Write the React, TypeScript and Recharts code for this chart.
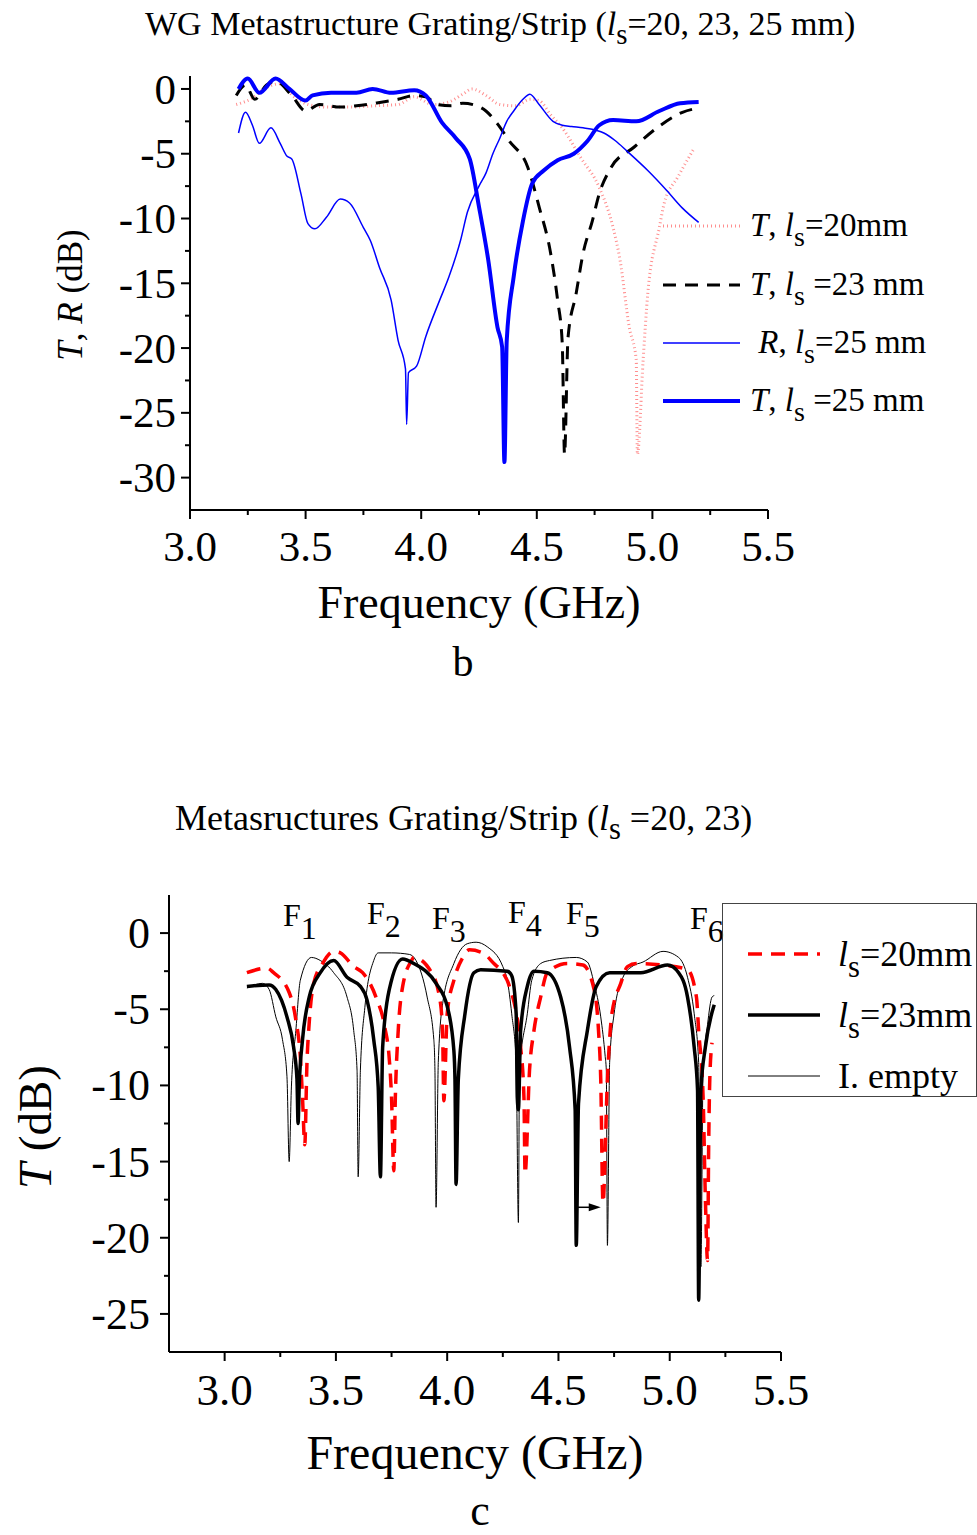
import React from 'react'
import { LineChart, Line, XAxis, YAxis, ReferenceLine } from 'recharts'

const SERIF = '"Liberation Serif", "Times New Roman", Times, serif'

// ---- panel b: WG metastructure grating/strip, [GHz, dB]
const bT20: [number, number][] = [
  [3.2, -1.2], [3.27, -0.7], [3.32, 0], [3.39, 0.4], [3.45, -0.6], [3.51, -1.2], [3.6, -1.4],
  [3.7, -1.4], [3.8, -1.3], [3.9, -1.2], [3.97, -0.6], [4.05, -1.2], [4.12, -1.0], [4.18, -0.4],
  [4.22, 0], [4.28, -0.5], [4.34, -1.2], [4.41, -1.3], [4.47, -0.8], [4.51, -0.9], [4.56, -2.0],
  [4.61, -3.0], [4.69, -5.3], [4.77, -7.6], [4.83, -10.7], [4.86, -13.2], [4.9, -18.4],
  [4.93, -20.9], [4.935, -28.2], [4.96, -20.9], [4.98, -15.8], [5.03, -10.7], [5.05, -8.9],
  [5.11, -6.8], [5.18, -4.6],
]
const bT23: [number, number][] = [
  [3.2, -0.5], [3.24, 0.3], [3.28, -0.8], [3.33, 0.3], [3.37, 0.6], [3.44, -0.5], [3.5, -1.7],
  [3.56, -1.2], [3.65, -1.4], [3.72, -1.3], [3.8, -1.1], [3.9, -0.8], [3.97, -0.5], [4.02, -0.6],
  [4.07, -1.2], [4.13, -1.3], [4.18, -1.1], [4.24, -1.3], [4.28, -1.7], [4.33, -2.7], [4.38, -4.0],
  [4.46, -6.0], [4.51, -9.1], [4.56, -12.7], [4.59, -16.3], [4.61, -19.6], [4.62, -28.2],
  [4.635, -19.2], [4.67, -15.8], [4.7, -12.7], [4.74, -10.2], [4.77, -8.1], [4.82, -6.1],
  [4.92, -4.5], [5.02, -3.0], [5.13, -1.8], [5.19, -1.5],
]
const bR25: [number, number][] = [
  [3.21, -3.4], [3.24, -1.8], [3.27, -2.8], [3.3, -4.2], [3.35, -3.0], [3.39, -4.2], [3.42, -5.2],
  [3.44, -5.4], [3.48, -8.1], [3.51, -10.4], [3.54, -10.8], [3.59, -9.9], [3.65, -8.5], [3.69, -8.8],
  [3.75, -10.7], [3.78, -11.7], [3.82, -13.8], [3.87, -16.3], [3.9, -19.4], [3.932, -21.6],
  [3.937, -25.9], [3.945, -21.9], [3.98, -21.4], [4.02, -19.1], [4.08, -16.3], [4.12, -14.5],
  [4.17, -11.7], [4.2, -9.5], [4.25, -7.5], [4.28, -6.5], [4.31, -5.0], [4.34, -3.8], [4.37, -2.5],
  [4.4, -1.7], [4.44, -0.8], [4.47, -0.4], [4.51, -1.2], [4.57, -2.5], [4.61, -2.8], [4.65, -2.9],
  [4.7, -3.0], [4.76, -3.2], [4.79, -3.4], [4.84, -4.0], [4.89, -4.8], [4.98, -6.3], [5.06, -7.8],
  [5.13, -9.2], [5.2, -10.3],
]
const bT25: [number, number][] = [
  [3.21, 0], [3.25, 0.8], [3.3, -0.3], [3.37, 0.8], [3.43, 0], [3.5, -0.9], [3.53, -0.5],
  [3.61, -0.3], [3.72, -0.3], [3.79, 0], [3.87, -0.3], [3.97, -0.1], [4.02, -0.5], [4.09, -2.6],
  [4.15, -3.8], [4.21, -5.4], [4.25, -9.1], [4.29, -13.2], [4.33, -18.4], [4.35, -19.9],
  [4.36, -28.8], [4.37, -19.4], [4.4, -14.5], [4.44, -10.2], [4.48, -7.3], [4.53, -6.3],
  [4.59, -5.5], [4.66, -5.0], [4.72, -4.0], [4.77, -2.8], [4.83, -2.4], [4.93, -2.5], [5.03, -1.7],
  [5.12, -1.1], [5.2, -1.0],
]
const bXTicks = [3, 3.25, 3.5, 3.75, 4, 4.25, 4.5, 4.75, 5, 5.25, 5.5]
const bYTicks = [0, -2.5, -5, -7.5, -10, -12.5, -15, -17.5, -20, -22.5, -25, -27.5, -30]

// ---- panel c: metastructures grating/strip, T [GHz, dB]
const cL20: [number, number][] = [
  [3.1, -2.6], [3.19, -2.3], [3.22, -2.6], [3.29, -3.9], [3.32, -5.7], [3.34, -8.1], [3.35, -10.8],
  [3.36, -13.9], [3.37, -8.5], [3.38, -5.9], [3.4, -3.3], [3.44, -2.0], [3.49, -1.2], [3.52, -1.3],
  [3.58, -2.2], [3.62, -2.6], [3.68, -4.2], [3.72, -6.2], [3.74, -8.3], [3.75, -10.8], [3.76, -15.6],
  [3.767, -10.8], [3.78, -6.4], [3.8, -3.5], [3.84, -1.8], [3.85, -1.6], [3.93, -2.6], [3.97, -4.6],
  [3.98, -7.0], [3.985, -11.0], [4.0, -5.3], [4.03, -3.1], [4.07, -1.6], [4.1, -1.1], [4.16, -1.3],
  [4.21, -2.0], [4.25, -2.6], [4.28, -3.5], [4.33, -7.5], [4.345, -10.8], [4.35, -15.8], [4.37, -9.0],
  [4.39, -6.4], [4.42, -4.2], [4.45, -2.6], [4.54, -2.0], [4.61, -2.1], [4.66, -3.7], [4.68, -6.4],
  [4.69, -9.6], [4.7, -17.7], [4.72, -9.6], [4.74, -5.3], [4.78, -3.3], [4.81, -2.2], [4.85, -2.0],
  [4.97, -2.1], [5.08, -2.4], [5.12, -4.2], [5.13, -6.4], [5.15, -10.8], [5.16, -17.3],
  [5.17, -21.5], [5.175, -14.0], [5.18, -9.6], [5.19, -7.2],
]
const cL23: [number, number][] = [
  [3.1, -3.5], [3.2, -3.4], [3.23, -3.7], [3.28, -5.5], [3.31, -7.5], [3.325, -9.6], [3.33, -12.5],
  [3.335, -10.1], [3.35, -7.0], [3.38, -4.2], [3.43, -2.6], [3.49, -1.8], [3.55, -2.9], [3.61, -3.5],
  [3.64, -4.4], [3.67, -7.0], [3.69, -10.1], [3.7, -16.0], [3.71, -7.5], [3.74, -3.7], [3.8, -1.7],
  [3.85, -2.0], [3.95, -3.3], [4.0, -4.8], [4.03, -7.7], [4.035, -9.6], [4.04, -16.5], [4.05, -9.6],
  [4.08, -5.3], [4.12, -2.6], [4.15, -2.4], [4.27, -2.5], [4.29, -2.8], [4.31, -5.3], [4.315, -10.8],
  [4.32, -11.6], [4.33, -6.4], [4.36, -3.5], [4.39, -2.5], [4.45, -2.6], [4.51, -4.2], [4.55, -7.5],
  [4.575, -11.6], [4.58, -20.5], [4.59, -11.2], [4.63, -6.4], [4.67, -3.5], [4.73, -2.6],
  [4.87, -2.6], [4.99, -2.1], [5.04, -2.6], [5.08, -4.2], [5.11, -7.5], [5.125, -10.3],
  [5.13, -24.1], [5.14, -10.3], [5.16, -7.5], [5.2, -4.7],
]
const cEmpty: [number, number][] = [
  [3.1, -3.6], [3.17, -3.3], [3.2, -3.7], [3.23, -5.5], [3.26, -7.0], [3.28, -9.4], [3.29, -15.0],
  [3.3, -10.1], [3.32, -6.4], [3.34, -3.1], [3.39, -1.6], [3.43, -1.8], [3.49, -2.6], [3.55, -4.2],
  [3.58, -6.4], [3.595, -9.0], [3.6, -16.0], [3.61, -9.0], [3.63, -4.9], [3.67, -1.8], [3.69, -1.3],
  [3.75, -1.3], [3.83, -1.4], [3.86, -1.8], [3.91, -4.2], [3.94, -7.0], [3.945, -9.0], [3.95, -18.0],
  [3.96, -8.5], [3.98, -4.6], [4.03, -2.0], [4.09, -0.7], [4.13, -0.6], [4.18, -0.9], [4.25, -2.2],
  [4.27, -3.1], [4.29, -5.3], [4.31, -8.5], [4.32, -19.0], [4.325, -9.0], [4.36, -5.3], [4.38, -3.1],
  [4.42, -2.0], [4.46, -1.8], [4.58, -1.6], [4.63, -1.9], [4.66, -3.3], [4.69, -5.5], [4.71, -8.1],
  [4.715, -9.0], [4.72, -20.5], [4.73, -8.5], [4.75, -5.3], [4.79, -2.9], [4.83, -2.2], [4.88, -1.9],
  [4.97, -1.2], [5.04, -1.6], [5.08, -2.9], [5.11, -5.3], [5.13, -8.5], [5.14, -21.9], [5.15, -9.0],
  [5.17, -6.0], [5.19, -4.2], [5.2, -4.1],
]
const cXTicks = [3, 3.25, 3.5, 3.75, 4, 4.25, 4.5, 4.75, 5, 5.25, 5.5]
const cYTicks = [0, -2.5, -5, -7.5, -10, -12.5, -15, -17.5, -20, -22.5, -25]
const fNames = ['1', '2', '3', '4', '5', '6']
// arrow F5 shift: from l_s=23 dip to l_s=20 dip
const shiftArrow = { from: 4.585, to: 4.69, at: -18 }

const pts = (a: [number, number][]) => a.map(([f, v]) => ({ f, v }))
const isStep = (v: number, step: number) => Math.abs(v / step - Math.round(v / step)) < 1e-6

function XTick(props: any) {
  const { x, y, payload, off, fs } = props
  const major = isStep(payload.value, 0.5)
  return (
    <g>
      <line x1={x} x2={x} y1={y} y2={y + (major ? 9 : 5)} stroke="#000" strokeWidth={2} />
      {major && (
        <text x={x} y={y + off} textAnchor="middle" fontSize={fs} fontFamily={SERIF} fill="#000">
          {payload.value.toFixed(1)}
        </text>
      )}
    </g>
  )
}

function YTick(props: any) {
  const { x, y, payload, off, fs } = props
  const major = isStep(payload.value, 5)
  return (
    <g>
      <line x1={x} x2={x - (major ? 9 : 5)} y1={y} y2={y} stroke="#000" strokeWidth={2} />
      {major && (
        <text x={x - off} y={y + fs * 0.34} textAnchor="end" fontSize={fs} fontFamily={SERIF} fill="#000">
          {String(payload.value)}
        </text>
      )}
    </g>
  )
}

const Sub = ({ children, drop = 0.35, size = 0.85 }: any) => (
  <span style={{ fontSize: `${size}em`, position: 'relative', top: `${drop}em` }}>{children}</span>
)

const Txt = ({ x, y, fs, children, style }: any) => (
  <div
    style={{
      position: 'absolute', left: x, top: y, fontSize: fs, lineHeight: 1, whiteSpace: 'nowrap',
      fontFamily: SERIF, color: '#000', ...style,
    }}
  >
    {children}
  </div>
)

const Sample = ({ w, stroke, sw, dash }: any) => (
  <svg width={w} height={12} style={{ display: 'block' }}>
    <line x1={0} x2={w} y1={6} y2={6} stroke={stroke} strokeWidth={sw} strokeDasharray={dash} />
  </svg>
)

const axisLine = { stroke: '#000', strokeWidth: 2 }

export default function App() {
  return (
    <div
      style={{
        position: 'absolute', left: 0, top: 0, width: 977, height: 1535, background: '#fff',
        overflow: 'hidden', fontFamily: SERIF,
      }}
    >
      {/* panel b */}
      <div style={{ position: 'absolute', left: 0, top: 0 }}>
        <LineChart width={977} height={700} margin={{ top: 76, left: 150, right: 209, bottom: 150 }}>
          <XAxis
            type="number" dataKey="f" domain={[3, 5.5]} ticks={bXTicks} interval={0} height={40}
            tickSize={0} tickMargin={0} tickLine={false} axisLine={axisLine} allowDataOverflow
            tick={(p: any) => <XTick {...p} off={51} fs={43} />}
          />
          <YAxis
            type="number" domain={[-32.5, 1]} ticks={bYTicks} interval={0} width={40}
            tickSize={0} tickMargin={0} tickLine={false} axisLine={axisLine} allowDataOverflow
            tick={(p: any) => <YTick {...p} off={14} fs={43} />}
          />
          <Line data={pts(bT20)} dataKey="v" type="monotone" stroke="#ff8f8f" strokeWidth={3}
            strokeDasharray="1 3" dot={false} isAnimationActive={false} />
          <Line data={pts(bT23)} dataKey="v" type="monotone" stroke="#000" strokeWidth={3}
            strokeDasharray="13 9" dot={false} isAnimationActive={false} />
          <Line data={pts(bR25)} dataKey="v" type="monotone" stroke="#0000ff" strokeWidth={1.5}
            dot={false} isAnimationActive={false} />
          <Line data={pts(bT25)} dataKey="v" type="monotone" stroke="#0000ff" strokeWidth={4}
            dot={false} isAnimationActive={false} />
        </LineChart>
      </div>

      <Txt x={145} y={7} fs={34}>
        WG Metastructure Grating/Strip (<i>l</i><Sub drop={0.3}>s</Sub>=20, 23, 25 mm)
      </Txt>
      <Txt x={70} y={295} fs={35} style={{ transform: 'translate(-50%, -50%) rotate(-90deg)' }}>
        <i>T</i>, <i>R</i> (dB)
      </Txt>
      <Txt x={479} y={603} fs={46} style={{ transform: 'translate(-50%, -50%)' }}>
        Frequency (GHz)
      </Txt>
      <Txt x={463} y={662} fs={42} style={{ transform: 'translate(-50%, -50%)' }}>b</Txt>

      {/* legend b */}
      {[
        { y: 226, el: <Sample w={77} stroke="#ff8f8f" sw={3} dash="1 3" />, t: <><i>T</i>, <i>l</i><Sub>s</Sub>=20mm</> },
        { y: 285, el: <Sample w={77} stroke="#000" sw={3} dash="13 9" />, t: <><i>T</i>, <i>l</i><Sub>s</Sub> =23 mm</> },
        { y: 343, el: <Sample w={77} stroke="#0000ff" sw={1.5} />, t: <>&nbsp;<i>R</i>, <i>l</i><Sub>s</Sub>=25 mm</> },
        { y: 401, el: <Sample w={77} stroke="#0000ff" sw={4} />, t: <><i>T</i>, <i>l</i><Sub>s</Sub> =25 mm</> },
      ].map((r, i) => (
        <React.Fragment key={i}>
          <div style={{ position: 'absolute', left: 663, top: r.y - 6 }}>{r.el}</div>
          <Txt x={750} y={r.y - 17} fs={33}>{r.t}</Txt>
        </React.Fragment>
      ))}

      {/* panel c */}
      <div style={{ position: 'absolute', left: 0, top: 760 }}>
        <LineChart width={977} height={775} margin={{ top: 135, left: 129, right: 196, bottom: 143 }}>
          <XAxis
            type="number" dataKey="f" domain={[2.75, 5.5]} ticks={cXTicks} interval={0} height={40}
            tickSize={0} tickMargin={0} tickLine={false} axisLine={axisLine} allowDataOverflow
            tick={(p: any) => <XTick {...p} off={53} fs={45} />}
          />
          <YAxis
            type="number" domain={[-27.5, 2.5]} ticks={cYTicks} interval={0} width={40}
            tickSize={0} tickMargin={0} tickLine={false} axisLine={axisLine} allowDataOverflow
            tick={(p: any) => <YTick {...p} off={19} fs={44} />}
          />
          <Line data={pts(cEmpty)} dataKey="v" type="monotone" stroke="#000" strokeWidth={1}
            dot={false} isAnimationActive={false} />
          <Line data={pts(cL20)} dataKey="v" type="monotone" stroke="#ff0000" strokeWidth={3.5}
            strokeDasharray="14 9" dot={false} isAnimationActive={false} />
          <Line data={pts(cL23)} dataKey="v" type="monotone" stroke="#000" strokeWidth={3.5}
            dot={false} isAnimationActive={false} />
          <ReferenceLine
            segment={[{ x: shiftArrow.from, y: shiftArrow.at }, { x: shiftArrow.to, y: shiftArrow.at }]}
            ifOverflow="visible"
            shape={(p: any) => (
              <g>
                <line x1={p.x1} y1={p.y1} x2={p.x2 - 8} y2={p.y2} stroke="#000" strokeWidth={1.5} />
                <polygon points={`${p.x2},${p.y2} ${p.x2 - 12},${p.y2 - 4} ${p.x2 - 12},${p.y2 + 4}`} fill="#000" />
              </g>
            )}
          />
        </LineChart>
      </div>

      <Txt x={175} y={800} fs={36}>
        Metasructures Grating/Strip (<i>l</i><Sub drop={0.3}>s</Sub> =20, 23)
      </Txt>
      <Txt x={35} y={1127} fs={47} style={{ transform: 'translate(-50%, -50%) rotate(-90deg)' }}>
        <i>T</i> (dB)
      </Txt>
      <Txt x={475} y={1453} fs={48} style={{ transform: 'translate(-50%, -50%)' }}>
        Frequency (GHz)
      </Txt>
      <Txt x={480} y={1511} fs={44} style={{ transform: 'translate(-50%, -50%)' }}>c</Txt>

      {[[283, 905], [367, 903], [432, 908], [508, 902], [566, 903], [690, 908]].map(([x, y], i) => (
        <Txt key={i} x={x} y={y - 6} fs={32}>
          F<Sub drop={0.4} size={1}>{fNames[i]}</Sub>
        </Txt>
      ))}

      {/* legend c */}
      <div
        style={{
          position: 'absolute', left: 722, top: 903, width: 253, height: 192,
          border: '1px solid #444', boxSizing: 'content-box',
        }}
      />
      {[
        { y: 954, el: <Sample w={72} stroke="#ff0000" sw={3.5} dash="14 9" />, t: <><i>l</i><Sub>s</Sub>=20mm</> },
        { y: 1015, el: <Sample w={72} stroke="#000" sw={3.5} />, t: <><i>l</i><Sub>s</Sub>=23mm</> },
        { y: 1076, el: <Sample w={72} stroke="#000" sw={1} />, t: <>I. empty</> },
      ].map((r, i) => (
        <React.Fragment key={i}>
          <div style={{ position: 'absolute', left: 748, top: r.y - 6 }}>{r.el}</div>
          <Txt x={838} y={r.y - 18} fs={36}>{r.t}</Txt>
        </React.Fragment>
      ))}
    </div>
  )
}
